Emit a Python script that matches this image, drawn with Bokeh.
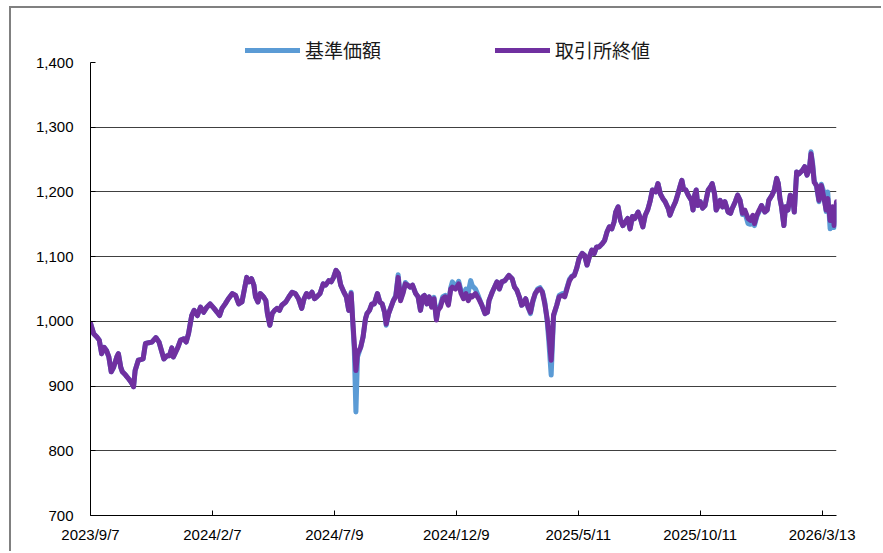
import pandas as pd
from bokeh.plotting import figure
from bokeh.models import Range1d, FixedTicker, NumeralTickFormatter, Legend, LegendItem, ColumnDataSource
from bokeh.embed import file_html
from bokeh.resources import INLINE

# ---------------- data ----------------
dates = [
    "2023-09-07", "2023-09-11", "2023-09-15", "2023-09-18", "2023-09-21", "2023-09-24", "2023-09-27", "2023-09-30", "2023-10-03", "2023-10-06",
    "2023-10-10", "2023-10-12", "2023-10-15", "2023-10-17", "2023-10-21", "2023-10-25", "2023-10-28", "2023-10-31", "2023-11-02", "2023-11-06",
    "2023-11-09", "2023-11-12", "2023-11-15", "2023-11-19", "2023-11-23", "2023-11-28", "2023-12-02", "2023-12-05", "2023-12-08", "2023-12-12",
    "2023-12-15", "2023-12-18", "2023-12-20", "2023-12-25", "2023-12-29", "2024-01-02", "2024-01-05", "2024-01-08", "2024-01-12", "2024-01-15",
    "2024-01-19", "2024-01-23", "2024-01-27", "2024-01-31", "2024-02-04", "2024-02-09", "2024-02-13", "2024-02-16", "2024-02-19", "2024-02-23",
    "2024-02-27", "2024-03-03", "2024-03-07", "2024-03-11", "2024-03-15", "2024-03-21", "2024-03-24", "2024-03-27", "2024-03-30", "2024-04-01",
    "2024-04-04", "2024-04-07", "2024-04-11", "2024-04-14", "2024-04-16", "2024-04-19", "2024-04-22", "2024-04-25", "2024-04-28", "2024-05-01",
    "2024-05-04", "2024-05-09", "2024-05-13", "2024-05-17", "2024-05-21", "2024-05-25", "2024-05-29", "2024-06-01", "2024-06-04", "2024-06-07",
    "2024-06-11", "2024-06-14", "2024-06-17", "2024-06-21", "2024-06-25", "2024-06-28", "2024-07-02", "2024-07-05", "2024-07-08", "2024-07-11",
    "2024-07-14", "2024-07-17", "2024-07-21", "2024-07-24", "2024-07-27", "2024-07-30", "2024-08-01", "2024-08-03", "2024-08-05", "2024-08-07",
    "2024-08-11", "2024-08-14", "2024-08-17", "2024-08-19", "2024-08-22", "2024-08-25", "2024-08-28", "2024-09-01", "2024-09-04", "2024-09-07",
    "2024-09-10", "2024-09-12", "2024-09-15", "2024-09-18", "2024-09-21", "2024-09-24", "2024-09-27", "2024-09-30", "2024-10-03", "2024-10-06",
    "2024-10-09", "2024-10-12", "2024-10-15", "2024-10-19", "2024-10-22", "2024-10-25", "2024-10-28", "2024-10-30", "2024-11-02", "2024-11-05",
    "2024-11-08", "2024-11-11", "2024-11-14", "2024-11-16", "2024-11-19", "2024-11-22", "2024-11-25", "2024-11-29", "2024-12-02", "2024-12-04",
    "2024-12-08", "2024-12-12", "2024-12-15", "2024-12-18", "2024-12-21", "2024-12-24", "2024-12-27", "2024-12-29", "2025-01-02", "2025-01-06",
    "2025-01-10", "2025-01-14", "2025-01-17", "2025-01-19", "2025-01-23", "2025-01-26", "2025-01-29", "2025-02-01", "2025-02-04", "2025-02-08",
    "2025-02-11", "2025-02-13", "2025-02-17", "2025-02-20", "2025-02-23", "2025-02-26", "2025-03-01", "2025-03-03", "2025-03-06", "2025-03-09",
    "2025-03-12", "2025-03-15", "2025-03-18", "2025-03-21", "2025-03-24", "2025-03-27", "2025-03-30", "2025-04-02", "2025-04-04", "2025-04-07",
    "2025-04-09", "2025-04-10", "2025-04-14", "2025-04-17", "2025-04-21", "2025-04-24", "2025-04-27", "2025-04-30", "2025-05-03", "2025-05-06",
    "2025-05-09", "2025-05-12", "2025-05-16", "2025-05-19", "2025-05-22", "2025-05-25", "2025-05-28", "2025-05-31", "2025-06-03", "2025-06-06",
    "2025-06-10", "2025-06-13", "2025-06-16", "2025-06-19", "2025-06-22", "2025-06-25", "2025-06-27", "2025-06-30", "2025-07-03", "2025-07-06",
    "2025-07-09", "2025-07-12", "2025-07-15", "2025-07-18", "2025-07-21", "2025-07-25", "2025-07-28", "2025-07-31", "2025-08-03", "2025-08-06",
    "2025-08-09", "2025-08-12", "2025-08-16", "2025-08-19", "2025-08-22", "2025-08-25", "2025-08-28", "2025-09-01", "2025-09-03", "2025-09-06",
    "2025-09-10", "2025-09-13", "2025-09-16", "2025-09-18", "2025-09-20", "2025-09-23", "2025-09-26", "2025-09-30", "2025-10-02", "2025-10-04",
    "2025-10-06", "2025-10-08", "2025-10-11", "2025-10-14", "2025-10-17", "2025-10-21", "2025-10-24", "2025-10-26", "2025-10-29", "2025-10-31",
    "2025-11-02", "2025-11-05", "2025-11-08", "2025-11-11", "2025-11-15", "2025-11-18", "2025-11-20", "2025-11-24", "2025-11-27", "2025-11-30",
    "2025-12-03", "2025-12-06", "2025-12-10", "2025-12-13", "2025-12-16", "2025-12-18", "2025-12-21", "2025-12-24", "2025-12-27", "2025-12-31",
    "2026-01-03", "2026-01-05", "2026-01-09", "2026-01-12", "2026-01-15", "2026-01-17", "2026-01-19", "2026-01-21", "2026-01-24", "2026-01-26",
    "2026-01-29", "2026-02-01", "2026-02-04", "2026-02-06", "2026-02-09", "2026-02-12", "2026-02-16", "2026-02-19", "2026-02-22", "2026-02-25",
    "2026-02-27", "2026-03-01", "2026-03-03", "2026-03-06", "2026-03-09", "2026-03-12", "2026-03-15", "2026-03-18", "2026-03-20", "2026-03-23",
    "2026-03-26", "2026-03-28", "2026-03-31",
]

# 取引所終値 (exchange close)
close = [
    997, 981, 976, 971, 950, 960, 955, 945, 922, 929,
    945, 950, 929, 922, 917, 911, 906, 899, 924, 940,
    941, 942, 966, 967, 968, 975, 968, 955, 942, 947,
    947, 959, 945, 958, 971, 973, 968, 981, 1009, 1017,
    1009, 1022, 1014, 1022, 1027, 1020, 1014, 1009, 1020, 1027,
    1035, 1043, 1040, 1027, 1030, 1068, 1061, 1066, 1056, 1038,
    1030, 1043, 1038, 1032, 1012, 994, 1012, 1017, 1020, 1017,
    1025, 1030, 1038, 1045, 1043, 1035, 1020, 1035, 1043, 1038,
    1045, 1035, 1038, 1043, 1058, 1056, 1063, 1061, 1068, 1079,
    1074, 1056, 1045, 1038, 1017, 1043, 1002, 965, 924, 950,
    960, 976, 1004, 1012, 1017, 1027, 1027, 1043, 1030, 1027,
    1014, 996, 1012, 1022, 1032, 1038, 1068, 1032, 1043, 1058,
    1056, 1053, 1056, 1043, 1038, 1017, 1038, 1040, 1027, 1038,
    1022, 1035, 1002, 1017, 1022, 1035, 1038, 1025, 1050, 1053,
    1050, 1058, 1043, 1035, 1043, 1032, 1040, 1038, 1043, 1035,
    1025, 1012, 1014, 1032, 1045, 1053, 1061, 1050, 1061, 1063,
    1068, 1071, 1066, 1053, 1048, 1038, 1025, 1027, 1035, 1022,
    1014, 1032, 1043, 1048, 1050, 1045, 1027, 1004, 981, 940,
    985, 1010, 1025, 1038, 1040, 1038, 1051, 1063, 1069, 1071,
    1082, 1097, 1105, 1102, 1087, 1100, 1110, 1105, 1115, 1115,
    1120, 1125, 1138, 1146, 1143, 1154, 1169, 1177, 1156, 1148,
    1154, 1159, 1143, 1162, 1159, 1169, 1159, 1146, 1164, 1172,
    1185, 1203, 1200, 1213, 1197, 1190, 1185, 1174, 1164, 1174,
    1185, 1197, 1210, 1218, 1205, 1203, 1195, 1187, 1172, 1195,
    1203, 1179, 1185, 1175, 1179, 1203, 1208, 1213, 1197, 1172,
    1177, 1187, 1177, 1185, 1169, 1167, 1174, 1185, 1195, 1187,
    1167, 1172, 1159, 1156, 1164, 1151, 1164, 1172, 1179, 1169,
    1172, 1187, 1195, 1203, 1221, 1213, 1190, 1177, 1148, 1177,
    1172, 1195, 1190, 1169, 1231, 1228, 1233, 1239, 1226, 1236,
    1259, 1241, 1215, 1210, 1187, 1210, 1192, 1172, 1190, 1156,
    1177, 1148, 1185,
]

# 基準価額 (NAV)
nav = [
    997, 981, 976, 971, 950, 960, 955, 945, 922, 929,
    945, 950, 929, 922, 917, 911, 906, 899, 924, 940,
    941, 942, 966, 967, 968, 975, 968, 955, 942, 947,
    947, 959, 945, 958, 971, 973, 968, 981, 1009, 1017,
    1009, 1022, 1014, 1022, 1027, 1020, 1014, 1009, 1020, 1027,
    1035, 1043, 1040, 1027, 1030, 1068, 1061, 1066, 1056, 1038,
    1030, 1043, 1038, 1032, 1012, 994, 1012, 1017, 1020, 1017,
    1025, 1030, 1038, 1045, 1043, 1035, 1020, 1035, 1043, 1038,
    1045, 1035, 1038, 1043, 1058, 1056, 1063, 1061, 1068, 1079,
    1074, 1056, 1045, 1038, 1017, 1045, 1000, 955, 860, 945,
    960, 976, 1004, 1012, 1017, 1027, 1027, 1043, 1030, 1027,
    1014, 994, 1012, 1022, 1032, 1040, 1072, 1034, 1045, 1060,
    1056, 1053, 1056, 1043, 1038, 1017, 1038, 1040, 1027, 1038,
    1024, 1037, 1004, 1019, 1025, 1038, 1040, 1027, 1052, 1061,
    1053, 1062, 1047, 1040, 1050, 1045, 1063, 1055, 1050, 1038,
    1025, 1012, 1014, 1032, 1045, 1053, 1061, 1050, 1061, 1063,
    1068, 1071, 1066, 1053, 1048, 1038, 1025, 1027, 1035, 1022,
    1012, 1030, 1043, 1050, 1052, 1046, 1030, 1000, 970, 917,
    978, 1008, 1025, 1040, 1043, 1040, 1053, 1065, 1070, 1072,
    1082, 1097, 1105, 1102, 1087, 1100, 1110, 1105, 1115, 1115,
    1120, 1125, 1138, 1146, 1143, 1154, 1169, 1177, 1156, 1148,
    1154, 1159, 1143, 1162, 1159, 1169, 1159, 1146, 1164, 1172,
    1185, 1203, 1200, 1213, 1197, 1190, 1185, 1174, 1164, 1174,
    1185, 1197, 1210, 1218, 1205, 1203, 1195, 1187, 1172, 1195,
    1203, 1179, 1185, 1175, 1179, 1203, 1208, 1213, 1197, 1172,
    1177, 1187, 1177, 1185, 1169, 1167, 1174, 1185, 1195, 1187,
    1165, 1168, 1151, 1150, 1160, 1148, 1162, 1170, 1179, 1169,
    1172, 1187, 1195, 1203, 1221, 1213, 1190, 1177, 1148, 1177,
    1172, 1195, 1190, 1169, 1231, 1228, 1233, 1239, 1226, 1236,
    1262, 1245, 1218, 1208, 1185, 1212, 1200, 1170, 1200, 1143,
    1170, 1145, 1180,
]

series_labels = ["基準価額", "取引所終値"]
series_colors = ["#5B9BD5", "#7030A0"]

x_tick_labels = ["2023/9/7", "2024/2/7", "2024/7/9", "2024/12/9", "2025/5/11", "2025/10/11", "2026/3/13"]
x_start, x_end = "2023-09-07", "2026-03-31"
y_ticks = [700, 800, 900, 1000, 1100, 1200, 1300, 1400]
y_grid = [800, 900, 1000, 1100, 1200, 1300]
y_headroom = 49.5   # extra room above 1,400 that holds the legend

# ---------------- figure ----------------
src = ColumnDataSource(dict(date=pd.to_datetime(dates), close=close, nav=nav))

p = figure(width=872, height=545, x_axis_type="datetime",
           output_backend="svg", toolbar_location=None,
           x_range=Range1d(pd.Timestamp(x_start), pd.Timestamp(x_end)),
           y_range=Range1d(y_ticks[0], y_ticks[-1] + y_headroom),
           min_border_left=79, min_border_top=22, min_border_right=47, min_border_bottom=38)
p.styles = {"border-top": "2px solid #808080", "border-left": "2px solid #808080",
            "margin-top": "6px", "margin-left": "9px"}
p.outline_line_color = None
p.background_fill_color = "white"
p.border_fill_color = "white"

r_nav = p.line("date", "nav", source=src, line_color=series_colors[0], line_width=5,
               line_join="round", line_cap="round")
r_close = p.line("date", "close", source=src, line_color=series_colors[1], line_width=5,
                 line_join="round", line_cap="round")

# grid
p.xgrid.visible = False
p.ygrid.ticker = FixedTicker(ticks=y_grid)
p.ygrid.grid_line_color = "#404040"
p.ygrid.grid_line_width = 1

# y axis
yax = p.yaxis[0]
yax.ticker = FixedTicker(ticks=y_ticks)
yax.bounds = (y_ticks[0], y_ticks[-1])
yax.formatter = NumeralTickFormatter(format="0,0")
yax.major_tick_in = 5
yax.major_tick_out = 0
yax.minor_tick_line_color = None
yax.axis_line_color = "black"
yax.major_tick_line_color = "black"
yax.major_label_text_font = "Liberation Sans"
yax.major_label_text_font_size = "15px"
yax.major_label_text_color = "black"
yax.major_label_standoff = 17

# x axis
tick_ts = pd.to_datetime(x_tick_labels, format="%Y/%m/%d")
tick_ms = [float(t.value // 10**6) for t in tick_ts]
xax = p.xaxis[0]
xax.ticker = FixedTicker(ticks=tick_ms)
xax.major_label_overrides = {ms: lab for ms, lab in zip(tick_ms, x_tick_labels)}
xax.major_tick_in = 5
xax.major_tick_out = 0
xax.minor_tick_line_color = None
xax.axis_line_color = "black"
xax.major_tick_line_color = "black"
xax.major_label_text_font = "Liberation Sans"
xax.major_label_text_font_size = "15px"
xax.major_label_text_color = "black"
xax.major_label_standoff = 10

# legend (inside the head room of the frame)
legend = Legend(items=[LegendItem(label=series_labels[0], renderers=[r_nav]),
                       LegendItem(label=series_labels[1], renderers=[r_close])],
                orientation="horizontal", location=(155, 452),
                glyph_width=55, glyph_height=20, label_width=190, spacing=0,
                label_standoff=5, padding=0, margin=0,
                border_line_color=None, background_fill_alpha=0,
                label_text_font="Noto Sans CJK JP", label_text_font_size="19px",
                label_text_color="#1a1a1a")
p.add_layout(legend)

open("out.html", "w").write(file_html(p, INLINE))
